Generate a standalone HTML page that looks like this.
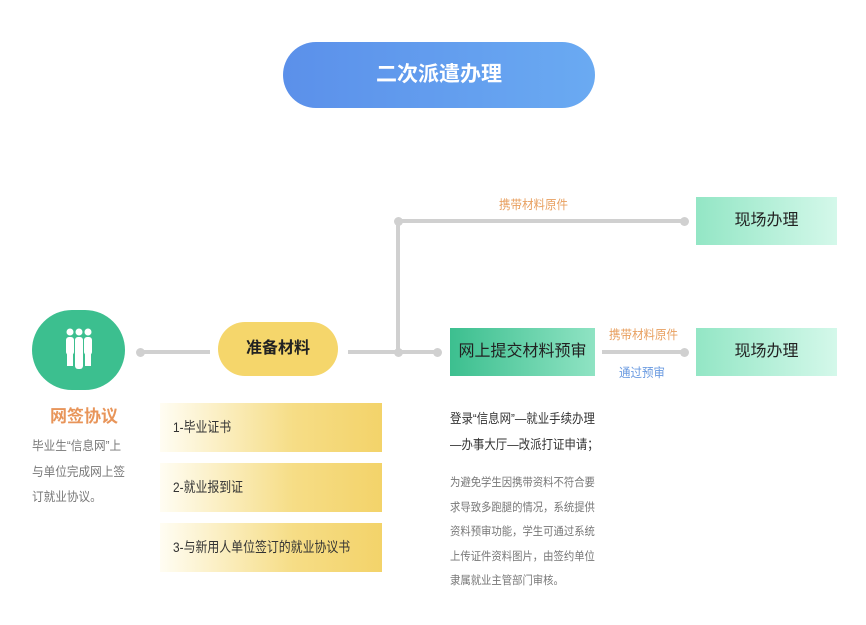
<!DOCTYPE html>
<html><head><meta charset="utf-8"><style>
body{margin:0;width:866px;height:625px;background:#fff;position:relative;overflow:hidden;font-family:"Liberation Sans","Noto Sans CJK SC",sans-serif}
.a{position:absolute}
.ln{position:absolute;background:#d0d0d0}
.dot{position:absolute;width:9px;height:9px;border-radius:50%;background:#d0d0d0}
.bar{position:absolute;left:160px;width:222px;height:49px;background:linear-gradient(90deg,#fffdf3,#f6dd86 60%,#f3d36a);font-size:14px;color:#333;line-height:49px;box-sizing:border-box;padding-left:13px}
.bar span{display:inline-block;transform:scaleX(0.85);transform-origin:left}
.gbox{position:absolute;width:141px;height:48px;background:linear-gradient(90deg,#93e6c5,#d4f8ea);font-size:16px;color:#222;text-align:center;line-height:48px}
</style></head><body>
<div class="a" style="left:283px;top:42px;width:312px;height:66px;border-radius:33px;background:linear-gradient(90deg,#5b90ea,#6aaaf2);color:#fff;font-size:21px;text-align:center;line-height:66px;font-weight:bold">二次派遣办理</div>

<div class="a" style="left:32px;top:310px;width:93px;height:80px;border-radius:40px;background:#3cbf8f"></div>
<svg class="a" style="left:64px;top:328px" width="30" height="44" viewBox="0 0 30 44" fill="#fff">
<circle cx="6" cy="4" r="3.5"/><circle cx="15" cy="4" r="3.5"/><circle cx="24" cy="4" r="3.5"/>
<rect x="2" y="9" width="8" height="18" rx="3"/><rect x="20" y="9" width="8" height="18" rx="3"/><rect x="11" y="9" width="8" height="32" rx="3"/>
<rect x="3" y="24" width="6" height="14"/><rect x="21" y="24" width="6" height="14"/></svg>
<div class="a" style="left:50px;top:402px;font-size:17px;color:#e8955a;font-weight:bold">网签协议</div>
<div class="a" style="left:32px;top:434px;font-size:12.5px;color:#777;line-height:25.5px;transform:scaleX(0.93);transform-origin:left">毕业生“信息网”上<br>与单位完成网上签<br>订就业协议。</div>

<div class="dot" style="left:136px;top:348px"></div>
<div class="ln" style="left:140px;top:350px;width:70px;height:4px"></div>
<div class="a" style="left:218px;top:322px;width:120px;height:54px;border-radius:27px;background:#f5d66b;font-size:16px;color:#222;text-align:center;line-height:54px;font-weight:bold">准备材料</div>
<div class="ln" style="left:348px;top:350px;width:90px;height:4px"></div>
<div class="dot" style="left:394px;top:348px"></div>
<div class="dot" style="left:433px;top:348px"></div>
<div class="ln" style="left:396px;top:219px;width:4px;height:133px"></div>
<div class="ln" style="left:398px;top:219px;width:287px;height:4px"></div>
<div class="dot" style="left:394px;top:217px"></div>
<div class="dot" style="left:680px;top:217px"></div>
<div class="a" style="left:499px;top:194px;font-size:12.5px;color:#e8a060;transform:scaleX(0.92);transform-origin:left">携带材料原件</div>
<div class="gbox" style="left:696px;top:197px">现场办理</div>

<div class="a" style="left:450px;top:328px;width:145px;height:48px;background:linear-gradient(90deg,#3cbf8f,#8fe3c3);font-size:16px;color:#222;text-align:center;line-height:48px">网上提交材料预审</div>
<div class="ln" style="left:602px;top:350px;width:82px;height:4px"></div>
<div class="dot" style="left:680px;top:348px"></div>
<div class="a" style="left:609px;top:324px;font-size:12.5px;color:#e8a060;transform:scaleX(0.92);transform-origin:left">携带材料原件</div>
<div class="a" style="left:619px;top:362px;font-size:12.5px;color:#6a9ae0;transform:scaleX(0.92);transform-origin:left">通过预审</div>
<div class="gbox" style="left:696px;top:328px">现场办理</div>

<div class="bar" style="top:403px"><span>1-毕业证书</span></div>
<div class="bar" style="top:463px"><span>2-就业报到证</span></div>
<div class="bar" style="top:523px"><span>3-与新用人单位签订的就业协议书</span></div>

<div class="a" style="left:450px;top:406px;font-size:13px;color:#333;line-height:26px;transform:scaleX(0.88);transform-origin:left;white-space:nowrap">登录“信息网”—就业手续办理<br>—办事大厅—改派打证申请；</div>
<div class="a" style="left:450px;top:471px;font-size:11.5px;color:#777;line-height:24.6px;transform:scaleX(0.9);transform-origin:left;white-space:nowrap">为避免学生因携带资料不符合要<br>求导致多跑腿的情况，系统提供<br>资料预审功能，学生可通过系统<br>上传证件资料图片，由签约单位<br>隶属就业主管部门审核。</div>
</body></html>
